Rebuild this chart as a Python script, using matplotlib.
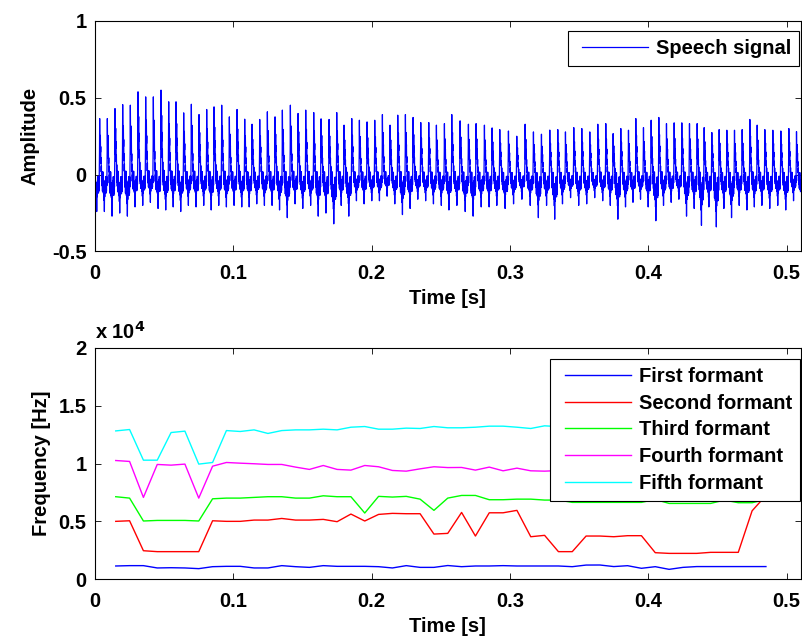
import numpy as np
import matplotlib
matplotlib.use("Agg")
import matplotlib.pyplot as plt

# ---------------------------------------------------------------- data ----
# Speech signal: glottal pulse instants [s], peak amplitudes and the deepest
# dip inside each pitch period.
pulse_times = [
    0.00338, 0.00892, 0.01446, 0.02001, 0.02555, 0.03109, 0.03664, 0.04218,
    0.04772, 0.05327, 0.05857, 0.06411, 0.06965, 0.07520, 0.08074, 0.08605,
    0.09159, 0.09713, 0.10268, 0.10822, 0.11352, 0.11907, 0.12461,
    0.13015, 0.13545, 0.14124, 0.14678, 0.15233, 0.15811, 0.16342, 0.16920,
    0.17474, 0.18004, 0.18560, 0.19113, 0.19667, 0.20222, 0.20776, 0.21330,
    0.21885, 0.22439, 0.22993, 0.23548, 0.24126, 0.24680, 0.25259, 0.25790,
    0.26392, 0.26994, 0.27549, 0.28151, 0.28706, 0.29260, 0.29887, 0.30489,
    0.31092, 0.31694, 0.32273, 0.32875, 0.33454, 0.34008, 0.34610, 0.35189,
    0.35767, 0.36346, 0.36924, 0.37455, 0.38009, 0.38564,
    0.39094, 0.39648, 0.40203, 0.40757, 0.41311, 0.41866, 0.42420, 0.42974,
    0.43529, 0.44035, 0.44589, 0.45119, 0.45674, 0.46228, 0.46782, 0.47337,
    0.47867, 0.48421, 0.48999, 0.49578, 0.50156, 0.50710,
]
pulse_peaks = [
    0.365, 0.365, 0.430, 0.456, 0.452, 0.539, 0.506, 0.506, 0.550, 0.474,
    0.474, 0.402, 0.458, 0.391, 0.424, 0.441, 0.452, 0.376, 0.424, 0.361,
    0.328, 0.359, 0.409,
    0.376, 0.420, 0.452, 0.398, 0.420, 0.404, 0.363, 0.359, 0.404, 0.322,
    0.365, 0.354, 0.343, 0.354, 0.391, 0.322, 0.387, 0.391, 0.372, 0.339,
    0.339, 0.322, 0.332, 0.391,
    0.350, 0.328, 0.332, 0.322, 0.304, 0.293, 0.284, 0.250, 0.328, 0.278,
    0.263, 0.290, 0.293, 0.278, 0.306, 0.300, 0.278, 0.328, 0.332, 0.267,
    0.300, 0.289,
    0.365, 0.306, 0.354, 0.372, 0.332, 0.337, 0.337, 0.332, 0.332, 0.306,
    0.274, 0.293, 0.289, 0.289, 0.293, 0.359, 0.322, 0.293, 0.289, 0.284,
    0.300, 0.280,
]
pulse_dips = [
    -0.24, -0.27, -0.25, -0.27, -0.21, -0.20, -0.18, -0.22, -0.23, -0.21,
    -0.24, -0.20, -0.21, -0.20, -0.23, -0.20, -0.21, -0.20, -0.21, -0.21,
    -0.19, -0.20, -0.20,
    -0.23, -0.28, -0.19, -0.22, -0.20, -0.27, -0.25, -0.32, -0.20, -0.27,
    -0.17, -0.19, -0.17, -0.17, -0.14, -0.19, -0.26, -0.22, -0.16, -0.17,
    -0.19, -0.20, -0.23, -0.20,
    -0.24, -0.27, -0.21, -0.21, -0.20, -0.22, -0.19, -0.16, -0.20, -0.28,
    -0.20, -0.29, -0.19, -0.15, -0.20, -0.19, -0.15, -0.17, -0.20, -0.29,
    -0.21, -0.18,
    -0.16, -0.21, -0.30, -0.20, -0.18, -0.16, -0.27, -0.22, -0.33, -0.21,
    -0.34, -0.22, -0.28, -0.20, -0.23, -0.21, -0.20, -0.22, -0.20, -0.23,
    -0.17, -0.20,
]
# Waveform of one pitch period (positive part relative to the peak,
# negative part relative to the dip).
cycle_shape = [
    1.00, 0.55, 0.30, 0.62, 0.70, 0.40, 0.50, 0.20, 0.30, 0.05,
    0.15, -0.20, 0.00, -0.30, 0.05, -0.25, -0.45, -0.15, -0.40, 0.05,
    -0.30, -0.50, -0.20, -0.55, -0.30, -0.70, -0.45, -1.00, -0.40, -0.60,
    -0.20, -0.50, -0.15, -0.45, -0.05, -0.40, -0.10, -0.50, -0.20, -0.45,
    -0.05, -0.30, 0.10, 0.40,
]

# Formant tracks, one estimate every 10 ms
formant_times = [round(0.015 + 0.01 * k, 3) for k in range(48)]
first_formant = [
    1150, 1180, 1180, 980, 1000, 980, 920, 1090, 1120, 1120, 980, 980,
    1180, 1090, 1030, 1180, 1120, 1120, 1120, 1090, 980, 1180, 1030, 1030,
    1190, 1090, 1150, 1150, 1180, 1150, 1150, 1150, 1150, 1090, 1230, 1235,
    1100, 1175, 950, 1090, 860, 1030, 1100, 1100, 1100, 1100, 1100, 1100,
]
second_formant = [
    5010, 5060, 2470, 2390, 2390, 2390, 2390, 5060, 5010, 5010, 5120, 5120,
    5260, 5120, 5120, 5180, 4980, 5640, 5040, 5610, 5700, 5670, 5670, 3910,
    3970, 5780, 3740, 5750, 5750, 5960, 3680, 3800, 2390, 2390, 3740, 3740,
    3680, 3770, 3770, 2300, 2240, 2240, 2240, 2330, 2330, 2330, 5920, 7250,
]
third_formant = [
    7140, 7020, 5040, 5090, 5090, 5090, 5040, 6960, 7020, 7020, 7080, 7140,
    7140, 7020, 7020, 7220, 7140, 7140, 5730, 7170, 7110, 7170, 6930, 5960,
    7020, 7250, 7250, 6880, 6880, 6930, 6930, 6850, 6850, 6650, 6650, 6650,
    6650, 6650, 6650, 6900, 6560, 6560, 6560, 6560, 6850, 6620, 6620, 6900,
]
fourth_formant = [
    10270, 10190, 7080, 9930, 9870, 9960, 7020, 9780, 10100, 10040, 9990, 9930,
    9930, 9700, 9500, 9840, 9500, 9440, 9840, 9730, 9410, 9350, 9550, 9730,
    9660, 9670, 9440, 9700, 9380, 9610, 9380, 9350, 9400, 9350, 9450, 9400,
    9500, 9450, 9400, 9350, 9450, 9500, 9400, 9450, 9500, 9400, 9450, 9400,
]
fifth_formant = [
    12830, 12950, 10300, 10300, 12690, 12810, 9960, 10100, 12860, 12780, 12920, 12610,
    12860, 12920, 12920, 12980, 12920, 13150, 13210, 12980, 12980, 13070, 13040, 13210,
    13100, 13100, 13150, 13240, 13240, 13150, 13040, 13270, 13200, 13150, 13250, 13200,
    13150, 13200, 13250, 13200, 13150, 13200, 13250, 13200, 13150, 13200, 13250, 13200,
]

formant_labels = ["First formant", "Second formant", "Third formant",
                  "Fourth formant", "Fifth formant"]
formant_colors = ["#0000ff", "#ff0000", "#00ff00", "#ff00ff", "#00ffff"]

t_end = 0.51


def build_speech():
    """Assemble the waveform period by period from the pulse table."""
    shape = np.asarray(cycle_shape)
    n = len(shape)
    phase = np.arange(n) / n
    tp = np.asarray(pulse_times)
    ts, vs = [], []

    def scaled(k):
        return np.where(shape >= 0, shape * pulse_peaks[k], -shape * pulse_dips[k])

    # tail of the period that precedes the first pulse
    period0 = tp[1] - tp[0]
    lead = phase >= 1 - tp[0] / period0
    ts.append(tp[0] - (1 - phase[lead]) * period0)
    vs.append(scaled(0)[lead])

    for k in range(len(tp)):
        t0 = tp[k]
        t1 = tp[k + 1] if k + 1 < len(tp) else t0 + (tp[k] - tp[k - 1])
        ts.append(t0 + phase * (t1 - t0))
        vs.append(scaled(k))
    t = np.concatenate(ts)
    v = np.concatenate(vs)
    keep = (t >= 0) & (t <= t_end)
    return t[keep], v[keep]


def trim_legend_lines(leg, shift_pt):
    """Start the legend sample lines a little right of the handle box edge."""
    for line in leg.get_lines():
        x = np.asarray(line.get_xdata(), dtype=float)
        line.set_xdata(np.linspace(x[0] + shift_pt, x[-1], len(x)))


# --------------------------------------------------------------- style ----
plt.rcParams["font.family"] = ["Liberation Sans", "DejaVu Sans"]
plt.rcParams["font.weight"] = "bold"
plt.rcParams["axes.labelweight"] = "bold"
plt.rcParams["font.size"] = 14.5
plt.rcParams["axes.linewidth"] = 0.8
plt.rcParams["mathtext.default"] = "bf"

fig = plt.figure(figsize=(8.02, 6.37), dpi=100)
ax1 = fig.add_axes([0.11845, 0.6052, 0.8797, 0.3619])
ax2 = fig.add_axes([0.11845, 0.0906, 0.8797, 0.3631])

legend_style = dict(loc="upper right", borderaxespad=0, fancybox=False,
                    framealpha=1, edgecolor="black", handlelength=3.6,
                    handletextpad=0.4, borderpad=0.39, fontsize=14.5)

for ax in (ax1, ax2):
    ax.tick_params(direction="in", length=4.3, width=0.6, top=True, right=True,
                   labelsize=14.5)
    ax.tick_params(axis="x", pad=9.2)
    ax.tick_params(axis="y", pad=6)
    ax.set_xlim(0, t_end)
    ax.set_xticks([0, 0.1, 0.2, 0.3, 0.4, 0.5])
    ax.set_xticklabels(["0", "0.1", "0.2", "0.3", "0.4", "0.5"])
    ax.set_xlabel("Time [s]", labelpad=4.2)

# ---- speech signal
ts, vs = build_speech()
ax1.plot(ts, vs, color="#0000ff", lw=0.9, label="Speech signal")
ax1.set_ylim(-0.5, 1)
ax1.set_yticks([-0.5, 0, 0.5, 1])
ax1.set_yticklabels(["-0.5", "0", "0.5", "1"])
ax1.set_ylabel("Amplitude")
ax1.yaxis.set_label_coords(-0.078, 0.5)
leg1 = ax1.legend(bbox_to_anchor=(0.998, 0.957), **legend_style)
leg1.get_frame().set_linewidth(0.8)
trim_legend_lines(leg1, 4.7)

# ---- formants
tracks = [first_formant, second_formant, third_formant, fourth_formant, fifth_formant]
for vals, lab, col in zip(tracks, formant_labels, formant_colors):
    ax2.plot(formant_times, vals, color=col, lw=1.0, label=lab)
ax2.set_ylim(0, 20000)
ax2.set_yticks([0, 5000, 10000, 15000, 20000])
ax2.set_yticklabels(["0", "0.5", "1", "1.5", "2"])
ax2.set_ylabel("Frequency [Hz]")
ax2.yaxis.set_label_coords(-0.062, 0.5)
ax2.text(0.0, 1.038, r"x 10$^{4}$", transform=ax2.transAxes,
         ha="left", va="baseline", fontsize=14.5)
leg2 = ax2.legend(bbox_to_anchor=(0.999, 0.951), labelspacing=0.38,
                  **legend_style)
leg2.get_frame().set_linewidth(0.8)
trim_legend_lines(leg2, 4.7)

fig.savefig("out.png", dpi=100)
